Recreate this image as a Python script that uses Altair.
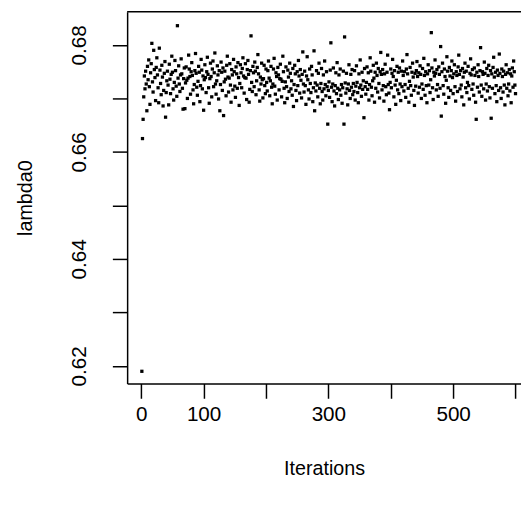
import altair as alt
import pandas as pd

## trace of lambda0 (iterations 1..600)
lambda0 = [
    0.6190, 0.6625, 0.6661, 0.6703, 0.6742, 0.6718, 0.6751, 0.6727, 0.6677, 0.6760,
    0.6735, 0.6772, 0.6722, 0.6689, 0.6748, 0.6765, 0.6803, 0.6731, 0.6712, 0.6790,
    0.6754, 0.6739, 0.6696, 0.6758, 0.6776, 0.6744, 0.6720, 0.6692, 0.6794, 0.6753,
    0.6728, 0.6707, 0.6762, 0.6740, 0.6686, 0.6715, 0.6747, 0.6769, 0.6665, 0.6711,
    0.6733, 0.6751, 0.6725, 0.6688, 0.6764, 0.6736, 0.6709, 0.6745, 0.6779, 0.6749,
    0.6718, 0.6697, 0.6730, 0.6771, 0.6752, 0.6723, 0.6704, 0.6836, 0.6738, 0.6761,
    0.6727, 0.6713, 0.6744, 0.6774, 0.6746, 0.6719, 0.6680, 0.6737, 0.6757, 0.6681,
    0.6729, 0.6759, 0.6734, 0.6700, 0.6738, 0.6781, 0.6755, 0.6741, 0.6708, 0.6750,
    0.6767, 0.6743, 0.6716, 0.6690, 0.6726, 0.6752, 0.6784, 0.6747, 0.6721, 0.6706,
    0.6732, 0.6760, 0.6749, 0.6694, 0.6724, 0.6773, 0.6753, 0.6718, 0.6742, 0.6678,
    0.6735, 0.6763, 0.6739, 0.6711, 0.6750, 0.6777, 0.6745, 0.6720, 0.6691, 0.6737,
    0.6766, 0.6741, 0.6703, 0.6755, 0.6770, 0.6722, 0.6748, 0.6785, 0.6727, 0.6708,
    0.6733, 0.6761, 0.6744, 0.6699, 0.6752, 0.6677, 0.6726, 0.6768, 0.6749, 0.6715,
    0.6757, 0.6668, 0.6731, 0.6751, 0.6736, 0.6705, 0.6762, 0.6779, 0.6740, 0.6712,
    0.6738, 0.6765, 0.6725, 0.6693, 0.6754, 0.6744, 0.6716, 0.6773, 0.6750, 0.6723,
    0.6702, 0.6759, 0.6746, 0.6719, 0.6767, 0.6739, 0.6687, 0.6728, 0.6763, 0.6748,
    0.6720, 0.6756, 0.6776, 0.6742, 0.6710, 0.6739, 0.6765, 0.6738, 0.6698, 0.6754,
    0.6771, 0.6745, 0.6693, 0.6717, 0.6752, 0.6817, 0.6730, 0.6713, 0.6760, 0.6748,
    0.6722, 0.6768, 0.6751, 0.6707, 0.6733, 0.6758, 0.6782, 0.6746, 0.6716, 0.6695,
    0.6740, 0.6727, 0.6766, 0.6735, 0.6701, 0.6737, 0.6762, 0.6724, 0.6709, 0.6755,
    0.6730, 0.6714, 0.6752, 0.6770, 0.6738, 0.6705, 0.6733, 0.6760, 0.6721, 0.6690,
    0.6727, 0.6755, 0.6775, 0.6723, 0.6708, 0.6748, 0.6741, 0.6697, 0.6758, 0.6744,
    0.6716, 0.6737, 0.6764, 0.6736, 0.6703, 0.6732, 0.6779, 0.6750, 0.6719, 0.6692,
    0.6731, 0.6759, 0.6722, 0.6700, 0.6753, 0.6740, 0.6713, 0.6766, 0.6747, 0.6718,
    0.6733, 0.6706, 0.6756, 0.6685, 0.6726, 0.6762, 0.6746, 0.6715, 0.6696, 0.6750,
    0.6724, 0.6771, 0.6742, 0.6710, 0.6754, 0.6734, 0.6701, 0.6745, 0.6787, 0.6727,
    0.6712, 0.6751, 0.6724, 0.6689, 0.6742, 0.6778, 0.6735, 0.6716, 0.6699, 0.6755,
    0.6728, 0.6711, 0.6760, 0.6744, 0.6694, 0.6720, 0.6789, 0.6677, 0.6729, 0.6714,
    0.6752, 0.6725, 0.6703, 0.6747, 0.6766, 0.6719, 0.6690, 0.6728, 0.6756, 0.6713,
    0.6697, 0.6744, 0.6718, 0.6770, 0.6726, 0.6705, 0.6750, 0.6722, 0.6652, 0.6715,
    0.6731, 0.6702, 0.6753, 0.6804, 0.6721, 0.6694, 0.6727, 0.6757, 0.6714, 0.6686,
    0.6724, 0.6748, 0.6709, 0.6767, 0.6719, 0.6698, 0.6744, 0.6716, 0.6755, 0.6706,
    0.6726, 0.6691, 0.6720, 0.6751, 0.6652, 0.6815, 0.6729, 0.6710, 0.6747, 0.6718,
    0.6688, 0.6727, 0.6763, 0.6715, 0.6700, 0.6745, 0.6721, 0.6754, 0.6707, 0.6728,
    0.6713, 0.6752, 0.6697, 0.6723, 0.6761, 0.6730, 0.6711, 0.6692, 0.6746, 0.6720,
    0.6772, 0.6725, 0.6704, 0.6749, 0.6717, 0.6733, 0.6664, 0.6756, 0.6722, 0.6708,
    0.6730, 0.6759, 0.6717, 0.6748, 0.6697, 0.6726, 0.6776, 0.6751, 0.6721, 0.6705,
    0.6733, 0.6762, 0.6738, 0.6693, 0.6749, 0.6719, 0.6766, 0.6743, 0.6712, 0.6756,
    0.6728, 0.6701, 0.6750, 0.6786, 0.6745, 0.6716, 0.6754, 0.6724, 0.6695, 0.6746,
    0.6764, 0.6722, 0.6707, 0.6749, 0.6781, 0.6726, 0.6710, 0.6679, 0.6730, 0.6755,
    0.6720, 0.6747, 0.6773, 0.6741, 0.6703, 0.6752, 0.6725, 0.6689, 0.6734, 0.6760,
    0.6716, 0.6749, 0.6709, 0.6757, 0.6727, 0.6696, 0.6751, 0.6722, 0.6770, 0.6743,
    0.6714, 0.6750, 0.6726, 0.6702, 0.6755, 0.6782, 0.6746, 0.6719, 0.6693, 0.6732,
    0.6758, 0.6724, 0.6706, 0.6749, 0.6766, 0.6740, 0.6715, 0.6687, 0.6747, 0.6723,
    0.6752, 0.6769, 0.6741, 0.6710, 0.6748, 0.6721, 0.6761, 0.6745, 0.6700, 0.6727,
    0.6756, 0.6717, 0.6775, 0.6743, 0.6706, 0.6750, 0.6724, 0.6692, 0.6746, 0.6763,
    0.6725, 0.6752, 0.6711, 0.6735, 0.6823, 0.6757, 0.6720, 0.6698, 0.6749, 0.6742,
    0.6772, 0.6747, 0.6716, 0.6754, 0.6726, 0.6704, 0.6759, 0.6745, 0.6719, 0.6797,
    0.6667, 0.6750, 0.6766, 0.6724, 0.6708, 0.6755, 0.6741, 0.6691, 0.6734, 0.6778,
    0.6751, 0.6720, 0.6702, 0.6758, 0.6742, 0.6715, 0.6752, 0.6770, 0.6739, 0.6709,
    0.6746, 0.6763, 0.6722, 0.6695, 0.6750, 0.6743, 0.6713, 0.6759, 0.6781, 0.6745,
    0.6718, 0.6752, 0.6725, 0.6703, 0.6756, 0.6740, 0.6688, 0.6749, 0.6766, 0.6720,
    0.6751, 0.6711, 0.6730, 0.6760, 0.6724, 0.6699, 0.6747, 0.6774, 0.6744, 0.6717,
    0.6754, 0.6727, 0.6706, 0.6757, 0.6743, 0.6693, 0.6661, 0.6749, 0.6721, 0.6763,
    0.6741, 0.6712, 0.6752, 0.6795, 0.6725, 0.6704, 0.6750, 0.6745, 0.6718, 0.6768,
    0.6747, 0.6697, 0.6727, 0.6756, 0.6714, 0.6743, 0.6762, 0.6722, 0.6701, 0.6752,
    0.6663, 0.6746, 0.6719, 0.6758, 0.6777, 0.6740, 0.6709, 0.6749, 0.6724, 0.6694,
    0.6753, 0.6743, 0.6715, 0.6783, 0.6747, 0.6720, 0.6700, 0.6755, 0.6741, 0.6712,
    0.6751, 0.6725, 0.6688, 0.6745, 0.6763, 0.6719, 0.6748, 0.6705, 0.6727, 0.6754,
    0.6714, 0.6746, 0.6692, 0.6742, 0.6757, 0.6721, 0.6770, 0.6750, 0.6725, 0.6709,
]
iterations = list(range(1, len(lambda0) + 1))

x_ticks = [0, 100, 200, 300, 400, 500, 600]
x_labels = ['0', '100', '300', '500']
y_ticks = [0.62, 0.63, 0.64, 0.65, 0.66, 0.67, 0.68]
y_labels = ['0.62', '0.64', '0.66', '0.68']

df = pd.DataFrame({'Iterations': iterations, 'lambda0': lambda0})

FONT = 'Liberation Sans'

points = alt.Chart(df).mark_square(size=11, color='black', opacity=1).encode(
    alt.X('Iterations:Q',
          scale=alt.Scale(domain=[-22.6, 608.8], nice=False, zero=False),
          axis=alt.Axis(values=x_ticks,
                        labelExpr="indexof(%s, datum.label) >= 0 ? datum.label : ''" % str(x_labels),
                        format='d', grid=False, tickSize=15, tickWidth=1.5,
                        domainWidth=1.5, domainColor='black', tickColor='black',
                        labelFont=FONT, labelFontSize=21, labelColor='black',
                        labelPadding=6, labelFlush=False, labelOverlap=False,
                        title='Iterations', titleFont=FONT, titleFontSize=20,
                        titleFontWeight='normal', titleColor='black', titlePadding=34)),
    alt.Y('lambda0:Q',
          scale=alt.Scale(domain=[0.61672, 0.68620], nice=False, zero=False),
          axis=alt.Axis(values=y_ticks,
                        labelExpr="indexof(%s, datum.label) >= 0 ? datum.label : ''" % str(y_labels),
                        format='.2f', grid=False, tickSize=15, tickWidth=1.5,
                        domainWidth=1.5, domainColor='black', tickColor='black',
                        labelFont=FONT, labelFontSize=21, labelColor='black',
                        labelAngle=270, labelAlign='center', labelBaseline='bottom',
                        labelPadding=23, labelFlush=False, labelOverlap=False,
                        title='lambda0', titleFont=FONT, titleFontSize=20,
                        titleFontWeight='normal', titleColor='black', titlePadding=34)),
)

## top edge of the box (the right edge is cut off in the original)
top = alt.Chart(pd.DataFrame({'a': [0]})).mark_rule(color='black', strokeWidth=1.5).encode(
    x=alt.value(0), x2=alt.value(400), y=alt.value(0)
)

chart = (points + top).properties(
    width=400, height=377.5, autosize='none',
    padding={'left': 121, 'top': 0, 'right': 0, 'bottom': 116}
).configure_view(stroke=None)

chart.save('out.html', embed_options={'renderer': 'svg', 'actions': False})
